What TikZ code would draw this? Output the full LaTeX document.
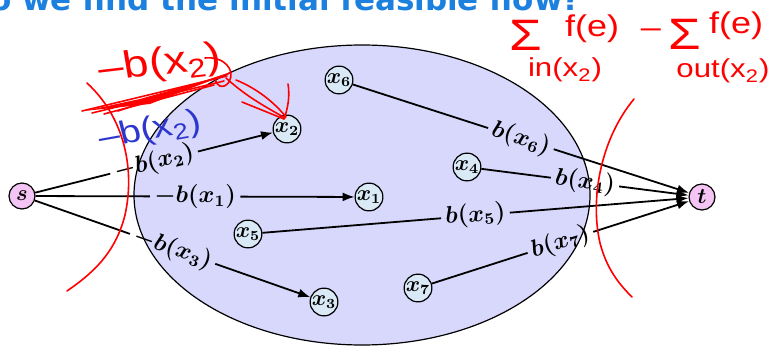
\documentclass[tikz,border=0pt]{standalone}
\usepackage{fontspec}
\newfontfamily\titlefont{DejaVu Sans}
\newfontfamily\handfont{Liberation Sans}
\usetikzlibrary{arrows.meta}

\definecolor{setfill}{RGB}{216,216,252}
\definecolor{vfill}{RGB}{217,233,246}
\definecolor{stfill}{RGB}{244,196,244}
\definecolor{titleblue}{RGB}{28,128,222}
\definecolor{penblue}{RGB}{45,55,205}

\tikzset{
  vnode/.style={circle, draw, line width=0.6pt, fill=vfill, minimum size=13pt, inner sep=0pt, font=\fontsize{10.5}{12}\selectfont\boldmath},
  stnode/.style={vnode, fill=stfill},
  lbl/.style={sloped, pos=0.5, inner sep=2pt, font=\fontsize{11.5}{13}\selectfont\boldmath},
  edge/.style={line width=0.9pt},
  arc/.style={edge, -{Latex[length=6pt, width=4.5pt]}},
  pen/.style={red, line width=0.8pt, line cap=round},
  hand/.style={red, inner sep=0pt, xscale=1.2, font=\handfont\fontsize{15}{16}\selectfont}
}

\begin{document}
\begin{tikzpicture}[x=0.5pt, y=-0.5pt] % pixel coordinates, y downwards

    \useasboundingbox (0,0) rectangle (770,347);

    % 1. title (cut off at the top of the slide)
    \node[anchor=base east, inner sep=0pt, text=titleblue,
          font=\titlefont\bfseries\fontsize{15.5}{18}\selectfont] (title) at (581,11)
          {How do we find the initial feasible flow?};

    % 2. the set of inner vertices
    \draw[line width=0.6pt, fill=setfill] (362,195) ellipse [x radius=228, y radius=150];

    % 3. source, sink and the inner vertices
    \node[stnode] (s) at (22,196) {$s$};
    \node[stnode] (t) at (702,197) {$t$};
    \node[vnode] (x1) at (369,197) {$x_1$};
    \node[vnode] (x2) at (287,129) {$x_2$};
    \node[vnode] (x3) at (324,302) {$x_3$};
    \node[vnode] (x4) at (467,167) {$x_4$};
    \node[vnode] (x5) at (248,234) {$x_5$};
    \node[vnode] (x6) at (339,80) {$x_6$};
    \node[vnode] (x7) at (418,288) {$x_7$};

    % 4. edges out of s, label sits in a gap of the edge
    \foreach \v in {1,2,3} {
      \path (s) -- node[lbl] (l\v) {$-b(x_\v)$} (x\v);
      \draw[edge] (s) -- (l\v);
      \draw[arc] (l\v) -- (x\v);
    }

    % 5. edges into t
    \foreach \v in {4,5,6,7} {
      \path (x\v) -- node[lbl] (l\v) {$b(x_\v)$} (t);
      \draw[edge] (x\v) -- (l\v);
      \draw[arc] (l\v) -- (t);
    }

    % 6. hand-drawn cuts (red)
    \draw[pen] (87,83) .. controls (125,118) and (135,170) .. (125,215)
          .. controls (115,255) and (90,275) .. (67,291);
    \draw[pen] (634,99) .. controls (600,140) and (590,200) .. (600,243)
          .. controls (607,270) and (620,285) .. (632,297);

    % 7. hand-written notes, left
    \node[hand, font=\handfont\fontsize{19}{20}\selectfont, rotate=8] (note1) at (160,65) {–b(x\textsubscript{2})};
    \fill[red] (84,111) -- (140,99) -- (228,74) -- (150,104) -- cycle;
    \draw[pen] (82,111) -- (227,76);
    \draw[pen] (92,113) -- (224,81);
    \draw[pen] (104,114) -- (214,85);
    \draw[pen] (118,111) -- (230,73);
    \draw[pen] (205,58) .. controls (224,56) and (236,70) .. (229,82)
          .. controls (224,90) and (214,86) .. (216,78);
    \draw[pen] (226,78) .. controls (248,98) and (268,108) .. (285,118);
    \draw[pen] (236,80) .. controls (256,88) and (274,102) .. (286,117);
    \draw[pen] (242,102) -- (284,119);
    \draw[pen] (288,84) .. controls (290,96) and (288,108) .. (284,119);
    \node[hand, text=penblue, font=\handfont\fontsize{16}{17}\selectfont, rotate=12] (note2) at (150,131) {–b(x\textsubscript{2})};

    % 8. hand-written notes, right
    \node[hand, font=\handfont\fontsize{22}{22}\selectfont] (sin) at (526,35) {Σ};
    \node[hand] (fin) at (592,29) {f(e)};
    \node[hand] (minus) at (651,33) {–};
    \node[hand, font=\handfont\fontsize{22}{22}\selectfont] (sout) at (685,34) {Σ};
    \node[hand] (fout) at (736,26) {f(e)};
    \node[hand, font=\handfont\fontsize{13}{14}\selectfont] (inx) at (565,70) {in(x\textsubscript{2})};
    \node[hand, font=\handfont\fontsize{13}{14}\selectfont] (outx) at (723,71) {out(x\textsubscript{2})};

\end{tikzpicture}
\end{document}
